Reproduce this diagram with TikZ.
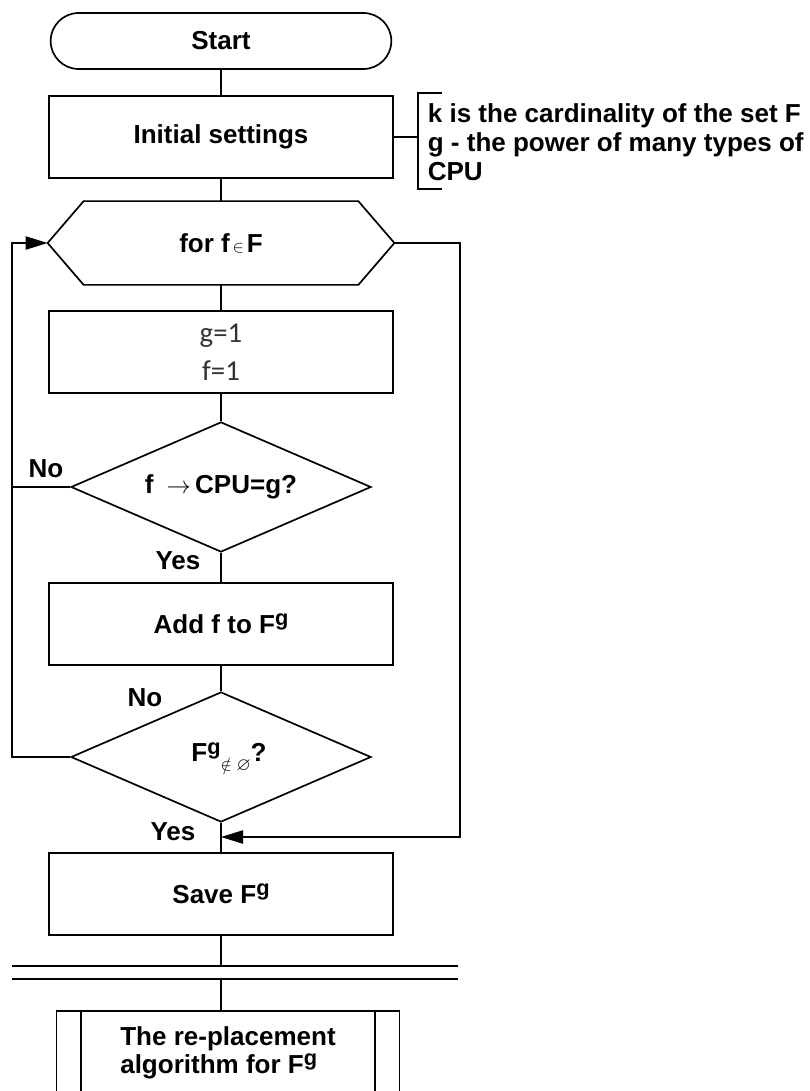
\documentclass[tikz,border=0pt]{standalone}
\usepackage{amssymb}
\usepackage{fontspec}
\setmainfont{Liberation Sans}
\newfontfamily\calfont{Carlito}
\usetikzlibrary{
    arrows.meta,
    shapes,
    calc
}
\newcommand{\supg}{\raisebox{0.55ex}{\fontsize{15.5}{15.5}\selectfont g}}
\tikzset{
    lbl/.style={font=\bfseries\fontsize{18.5}{19.5}\selectfont},
    term/.style={rounded rectangle, draw, minimum width=8.75cm, minimum height=1.4cm, lbl},
    box/.style={rectangle, draw, minimum width=8.6cm, minimum height=2.05cm, lbl},
    hexbox/.style={rectangle, minimum width=8.625cm, minimum height=2.05cm, lbl},
    cond/.style={diamond, draw, shape aspect=2.3, minimum width=7.5cm, minimum height=3.25cm, inner sep=0pt, lbl},
    note/.style={anchor=north west, inner sep=0pt, align=left, font=\bfseries\fontsize{18.5}{20.6}\selectfont},
    tip/.style={-{Triangle[length=0.55cm,width=0.33cm]}}
}

\begin{document}
\begin{tikzpicture}[x=0.025cm, y=-0.025cm, line width=1.2pt]
                                \useasboundingbox (0,0) rectangle (809,1091);
                                \clip (0,0) rectangle (809,1091);
                                \node[term] (start) at (221,41) {Start};
                                \node[box] (init) at (221,137) {Initial settings};
                                \node[hexbox] (loop) at (221,243) {for f{\fontsize{12}{12}\selectfont\,$\in$\,}F};
                                \draw (loop.west) -- ([xshift=0.9cm]loop.north west) -- ([xshift=-0.9cm]loop.north east)
                                -- (loop.east) -- ([xshift=-0.9cm]loop.south east) -- ([xshift=0.9cm]loop.south west) -- cycle;
                                \node[box, align=center, font=\calfont\fontsize{20.5}{27}\selectfont, text=black!80] (setg) at (221,352) {g=1\\f=1};
                                \node[cond] (test1) at (221,487) {f\enspace$\rightarrow$\,CPU=g?};
                                \node[box] (addf) at (221,624) {Add f to F\supg};
                                \node[cond] (test2) at (221,757) {\hspace{0.4cm}F\supg\raisebox{-0.6ex}{\fontsize{13}{13}\selectfont$\notin\varnothing$}?};
                                \node[box] (save) at (221,894) {Save F\supg};
                                \node[box, minimum width=8.575cm, minimum height=2.1cm, align=left] (algo) at (228,1053)
                                {The re-placement\\algorithm for F\supg};
                                \draw ([xshift=0.64cm]algo.north west) -- ([xshift=0.64cm]algo.south west)
                                ([xshift=-0.64cm]algo.north east) -- ([xshift=-0.64cm]algo.south east);

                                \draw (start) -- (init);
                                \draw (init) -- (loop);
                                \draw (loop) -- (setg);
                                \draw (setg) -- (test1);
                                \draw (test1) -- (addf);
                                \draw (addf) -- (test2);
                                \draw (test2) -- (save);

                                \coordinate (dl1) at (221,966);
                                \coordinate (dl2) at (221,979);
                                \draw (save) -- (dl1);
                                \draw (dl2) -- (dl2 |- algo.north);
                                \draw
                                (12,966) -- (458,966)
                                (12,979) -- (458,979);

                                \coordinate (lft) at (12,243);
                                \draw (test1.west) -- (test1.west -| lft);
                                \draw[tip] (test2.west) -| (lft) -- (loop.west);
                                \coordinate (rgt) at (460,243);
                                \coordinate (mrg) at (221,837);
                                \draw[tip] (loop.east) -- (rgt) |- (mrg);

                                \node[lbl] (no1) at (46,469) {No};
                                \node[lbl] (yes1) at (178,561) {Yes};
                                \node[lbl] (no2) at (145,698) {No};
                                \node[lbl] (yes2) at (173,832) {Yes};

                                \coordinate (brk) at (418,137);
                                \draw (init.east) -- (brk);
                                \draw (442,93) -- (418,93) -- (418,189) -- (442,189);
                                \node[note] (notes) at (427,103)
                                {k is the cardinality of the set F\\g - the power of many types of\\CPU};
                            \end{tikzpicture}
\end{document}
